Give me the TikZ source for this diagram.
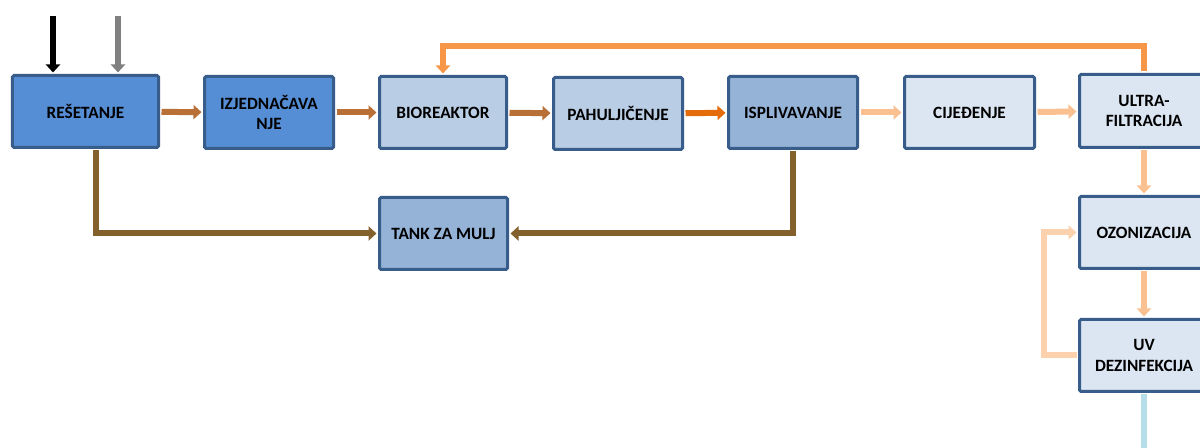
\documentclass[tikz,border=0pt]{standalone}
\usepackage{fontspec}
\setmainfont{Carlito}
\usetikzlibrary{arrows.meta}
\definecolor{bdr}{HTML}{385D8A}
\definecolor{fA}{HTML}{558ED5}
\definecolor{fB}{HTML}{B9CDE5}
\definecolor{fC}{HTML}{95B3D7}
\definecolor{fD}{HTML}{DCE6F2}
\definecolor{cBr}{HTML}{B97037}
\definecolor{cOr}{HTML}{E46C0A}
\definecolor{cLt}{HTML}{FAC090}
\definecolor{cLt2}{HTML}{FCD2AE}
\definecolor{cTop}{HTML}{F79646}
\definecolor{cSl}{HTML}{84602C}
\definecolor{cBl}{HTML}{B7DEE8}
\tikzset{
  box/.style={draw=bdr, line width=3bp, rounded corners=1.5bp, minimum width=129bp, minimum height=72bp,
    inner sep=0pt, align=center, font=\bfseries\fontsize{17.3}{21}\selectfont, text=black},
  arr/.style={line width=6bp, -{Triangle[width=14bp,length=8bp]}, shorten >=1.5bp, shorten <=1.5bp},
  pipe/.style={line width=6bp, shorten <=1.5bp}
}
\begin{document}
\begin{tikzpicture}[x=1bp,y=-1bp]
\clip (0,0) rectangle (1200,448);
\fill[white] (0,0) rectangle (1200,448);
% boxes
\node[box, fill=fA, minimum width=146bp] (res) at (85.5,111.5) {REŠETANJE};
\node[box, fill=fA] (izj) at (269,112.5) {IZJEDNAČAVA\\NJE};
\node[box, fill=fB, minimum width=127bp] (bio) at (443,112.5) {BIOREAKTOR};
\node[box, fill=fB] (pah) at (618,113.5) {PAHULJIČENJE};
\node[box, fill=fC] (isp) at (793,112.5) {ISPLIVAVANJE};
\node[box, fill=fD, minimum width=130bp] (cij) at (969.5,112.5) {CIJEĐENJE};
\node[box, fill=fD, minimum height=73bp] (ult) at (1144,111) {ULTRA-\\FILTRACIJA};
\node[box, fill=fD] (ozo) at (1144,232.5) {OZONIZACIJA};
\node[box, fill=fD] (uv) at (1144,355.5) {UV\\DEZINFEKCIJA};
\node[box, fill=fC, minimum width=128bp] (tank) at (443.5,233.5) {TANK ZA MULJ};
% inputs
\coordinate (in1) at (53,15);
\coordinate (in2) at (118,15);
\draw[arr, black] (in1) -- (in1 |- res.north);
\draw[arr, gray] (in2) -- (in2 |- res.north);
% main line
\draw[arr, cBr] (res) -- (izj);
\draw[arr, cBr] (izj) -- (bio);
\draw[arr, cBr] (bio) -- (pah);
\draw[arr, cOr] (pah) -- (isp);
\draw[arr, cLt] (isp) -- (cij);
\draw[arr, cLt] (cij) -- (ult);
\draw[arr, cLt] (ult) -- (ozo);
\draw[arr, cLt] (ozo) -- (uv);
% output
\coordinate (out) at (1144,470);
\draw[pipe, cBl] (uv.south) -- (out);
% recirculation to bioreactor
\coordinate (top) at (0,46);
\draw[arr, cTop] (ult.north) -- (ult.north |- top) -- (bio.north |- top) -- (bio.north);
% UV loop back to ozonization
\coordinate (lp) at (1044,0);
\draw[arr, cLt2] (uv.west) -- (uv.west -| lp) |- (ozo.west);
% sludge
\draw[arr, cSl] ([xshift=10.5bp]res.south) |- (tank.west);
\draw[arr, cSl] (isp.south) |- (tank.east);
\end{tikzpicture}
\end{document}
